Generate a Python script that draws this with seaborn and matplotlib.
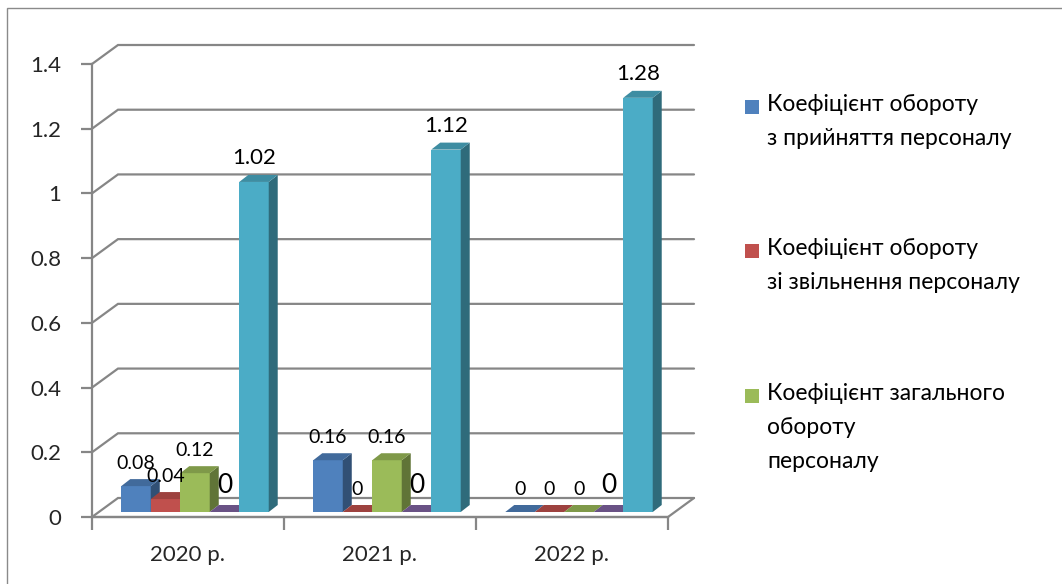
import numpy as np
import pandas as pd
import matplotlib
matplotlib.use("Agg")
import matplotlib.pyplot as plt
import matplotlib.transforms as mtransforms
from matplotlib.patches import Polygon, Rectangle
import seaborn as sns

# ---- data -------------------------------------------------------------
years = ["2020 р.", "2021 р.", "2022 р."]
series_names = [
    "Коефіцієнт обороту\nз прийняття персоналу",
    "Коефіцієнт обороту\nзі звільнення персоналу",
    "Коефіцієнт загального\nобороту\nперсоналу",
    "Ряд 4",
    "Ряд 5",
]
hiring = [0.08, 0.16, 0.0]
dismissal = [0.04, 0.0, 0.0]
overall = [0.12, 0.16, 0.0]
series4 = [0.0, 0.0, 0.0]
series5 = [1.02, 1.12, 1.28]
value_labels = [
    ["0.08", "0.16", "0"],
    ["0.04", "0", "0"],
    ["0.12", "0.16", "0"],
    ["0", "0", "0"],
    ["1.02", "1.12", "1.28"],
]
y_ticks = [0, 0.2, 0.4, 0.6, 0.8, 1.0, 1.2, 1.4]
y_tick_labels = ["0", "0.2", "0.4", "0.6", "0.8", "1", "1.2", "1.4"]
colors = ["#4F81BD", "#C0504D", "#9BBB59", "#8064A2", "#4BACC6"]
label_sizes = [14, 14, 14, 19, 16]
legend_entries = 3

all_values = [hiring, dismissal, overall, series4, series5]
df = pd.DataFrame(
    [(y, s, v[i]) for s, v in zip(series_names, all_values) for i, y in enumerate(years)],
    columns=["year", "series", "value"],
)

# ---- style ------------------------------------------------------------
sns.set_style("white")
FONT = ["Lato", "Noto Sans", "DejaVu Sans"]
plt.rcParams["font.family"] = FONT
GRID = "#868686"

W, H = 1062, 584
fig = plt.figure(figsize=(W / 100, H / 100), dpi=100)
fig.patch.set_facecolor("white")

# outer chart-area border
fig.patches.append(Rectangle((7 / W, -0.05), 1.1, 1 - 8 / H + 0.05, transform=fig.transFigure,
                             fill=False, edgecolor="#8a8a8a", linewidth=1.0))

# front plane of the plot (left wall / floor front edge)
x0, x1, y0, y1 = 92, 668, 517, 64
ax = fig.add_axes([x0 / W, (H - y0) / H, (x1 - x0) / W, (y0 - y1) / H])
ax.set_facecolor("none")

sns.barplot(data=df, x="year", y="value", hue="series", hue_order=series_names,
            palette=colors, saturation=1, width=0.768, linewidth=0, ax=ax, legend=False)
ax.set_xlim(-0.5, 2.5)
ax.set_ylim(0, 1.4)

# pixel -> data units
ux = 3.0 / (x1 - x0)
uy = 1.4 / (y0 - y1)

# depth of the back wall and of the bars
wall_dx, wall_dy = 26 * ux, 19 * uy
bar_dx, bar_dy = 9 * ux, 7 * uy
shift = mtransforms.ScaledTranslation(7 / 100, 5 / 100, fig.dpi_scale_trans)
bar_tr = ax.transData + shift


def shade(c, f):
    r, g, b = matplotlib.colors.to_rgb(c)
    return (r * f, g * f, b * f)


# grid lines on the left wall and back wall
for v in y_ticks:
    ax.plot([-0.5, -0.5 + wall_dx, 2.5 + wall_dx], [v, v + wall_dy, v + wall_dy],
            color=GRID, lw=1.6, clip_on=False, zorder=0.5, solid_joinstyle="miter")
# floor front/right edge
ax.plot([-0.5, 2.5, 2.5 + wall_dx], [0, 0, wall_dy], color=GRID, lw=1.6,
        clip_on=False, zorder=0.5)

# 3‑D faces for every bar
for si, cont in enumerate(ax.containers):
    col = colors[si]
    for ci, bar in enumerate(cont.patches):
        x, w, h = bar.get_x(), bar.get_width(), bar.get_height()
        z = 2 + ci * 10 + si
        bar.set_transform(bar_tr)
        bar.set_zorder(z)
        bar.set_clip_on(False)
        side = Polygon([(x + w, 0), (x + w + bar_dx, bar_dy), (x + w + bar_dx, h + bar_dy), (x + w, h)],
                       closed=True, facecolor=shade(col, 0.62), edgecolor="none",
                       transform=bar_tr, zorder=z, clip_on=False)
        top = Polygon([(x, h), (x + bar_dx, h + bar_dy), (x + w + bar_dx, h + bar_dy), (x + w, h)],
                      closed=True, facecolor=shade(col, 0.82), edgecolor="none",
                      transform=bar_tr, zorder=z, clip_on=False)
        ax.add_patch(side)
        ax.add_patch(top)
        ax.text(x + w / 2, h + 14 * uy, value_labels[si][ci], transform=bar_tr,
                ha="center", va="bottom", fontsize=label_sizes[si],
                color="black", zorder=100, clip_on=False)

# axes styling
for s in ["top", "right"]:
    ax.spines[s].set_visible(False)
for s in ["left", "bottom"]:
    ax.spines[s].set_color(GRID)
    ax.spines[s].set_linewidth(1.6)
    ax.spines[s].set_zorder(0.6)
ax.set_yticks(y_ticks)
ax.set_yticklabels(y_tick_labels)
ax.set_xticks([0, 1, 2])
ax.set_xticklabels(years)
ax.set_xticks([-0.5, 0.5, 1.5, 2.5], minor=True)
ax.tick_params(axis="y", direction="out", length=8, width=1.6, color=GRID,
               labelsize=16, pad=14, left=True)
ax.tick_params(axis="x", which="major", length=0, labelsize=16, pad=20)
ax.tick_params(axis="x", which="minor", direction="out", length=9, width=1.6,
               color=GRID, bottom=True)
ax.set_xlabel("")
ax.set_ylabel("")

# legend (first three series)
for i, ypx in enumerate([107, 251, 396][:legend_entries]):
    fig.patches.append(Rectangle((745 / W, 1 - (ypx + 7) / H), 14 / W, 14 / H,
                                 transform=fig.transFigure, facecolor=colors[i],
                                 edgecolor="none"))
    fig.text(767 / W, 1 - (ypx - 13) / H, series_names[i], ha="left", va="top",
             fontsize=16.5, linespacing=1.75, color="black")

fig.savefig("out.png", dpi=100, facecolor="white")
